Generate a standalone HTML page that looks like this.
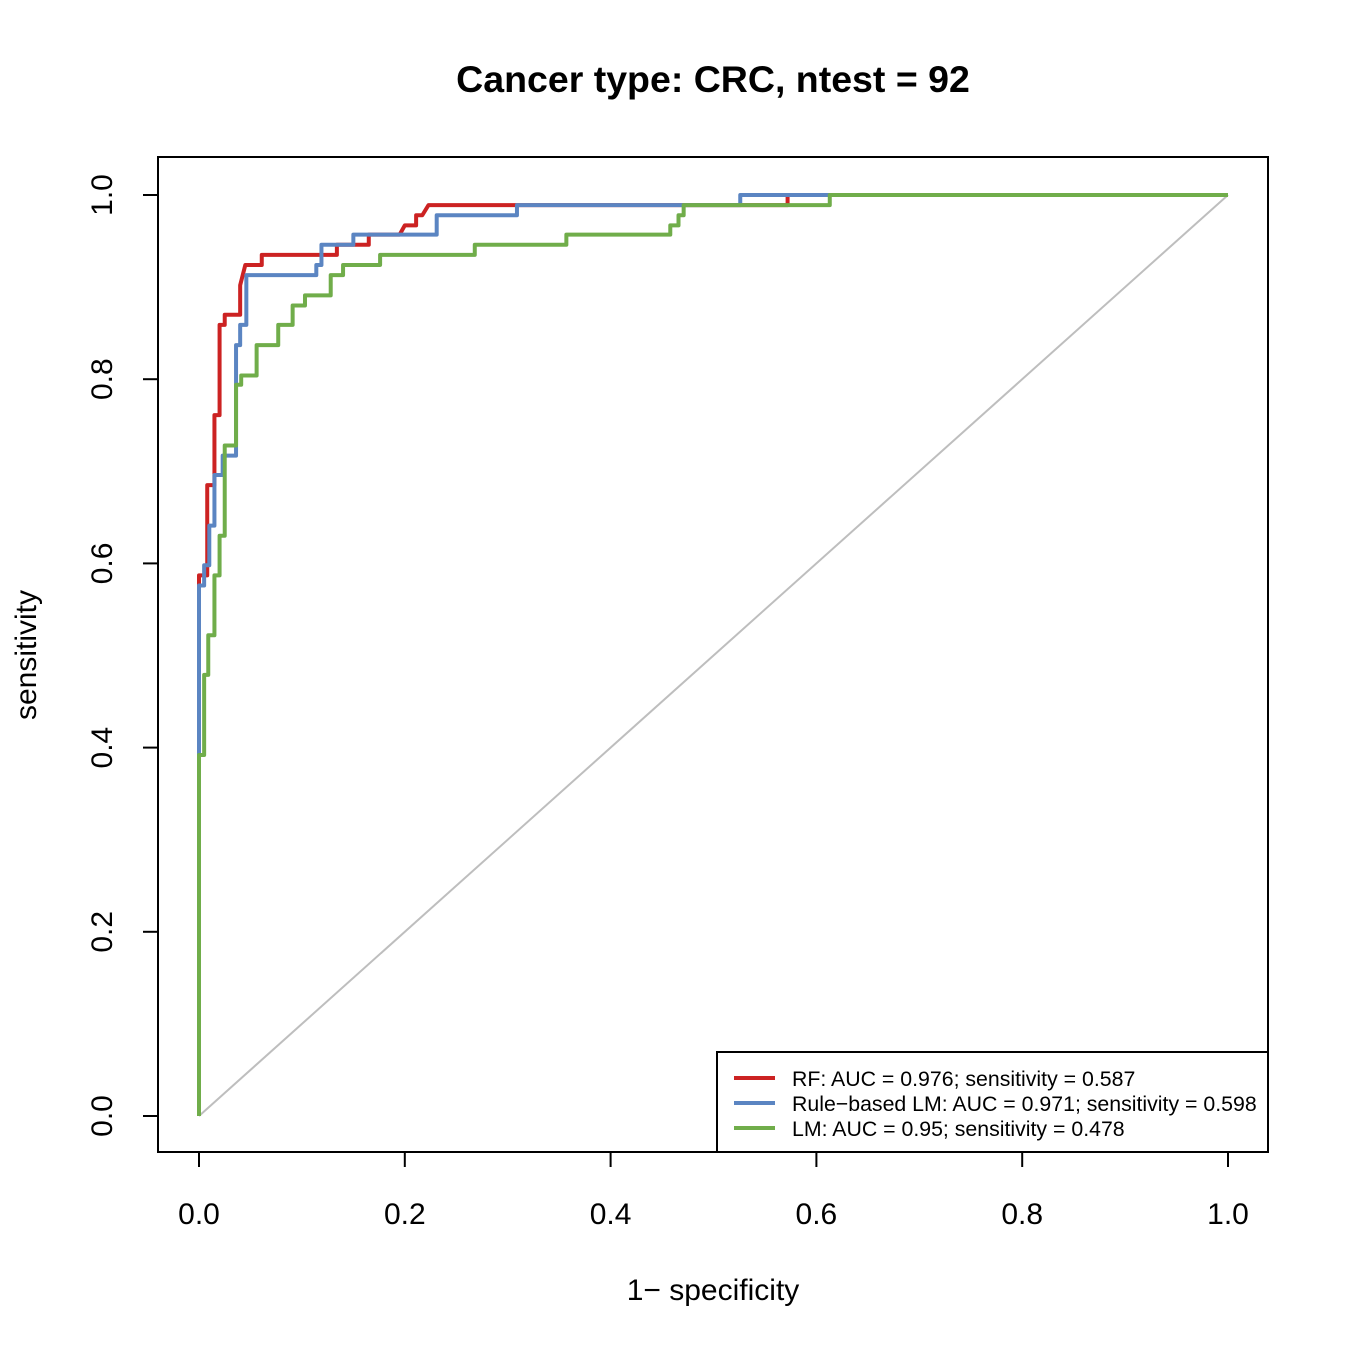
<!DOCTYPE html>
<html><head><meta charset="utf-8"><style>
html,body{margin:0;padding:0;background:#fff;}
svg text{font-family:"Liberation Sans",Arial,sans-serif;}
</style></head><body>
<svg id="chart" width="1350" height="1350" viewBox="0 0 1350 1350" xmlns="http://www.w3.org/2000/svg">
<rect x="0" y="0" width="1350" height="1350" fill="#fff"/>
<text x="713" y="92" text-anchor="middle" font-size="37.5" font-weight="bold">Cancer type: CRC, ntest = 92</text>
<g id="plot"></g>
<rect x="158" y="157" width="1110" height="995" fill="none" stroke="#000" stroke-width="2"/>
<text x="713" y="1300" text-anchor="middle" font-size="30">1− specificity</text>
<text transform="translate(36,655) rotate(-90)" text-anchor="middle" font-size="30">sensitivity</text>
<g>
<rect x="717" y="1052" width="551" height="100" fill="#fff" stroke="#000" stroke-width="2"/>
<line x1="734" y1="1078" x2="775" y2="1078" stroke="#cc2222" stroke-width="4"/>
<text x="792" y="1086" font-size="21.3">RF: AUC = 0.976; sensitivity = 0.587</text>
<line x1="734" y1="1103" x2="775" y2="1103" stroke="#5b85c2" stroke-width="4"/>
<text x="792" y="1111" font-size="21.3">Rule−based LM: AUC = 0.971; sensitivity = 0.598</text>
<line x1="734" y1="1128" x2="775" y2="1128" stroke="#70ad4a" stroke-width="4"/>
<text x="792" y="1136" font-size="21.3">LM: AUC = 0.95; sensitivity = 0.478</text>
</g>
</svg>
<script>
const ticks=[0,0.2,0.4,0.6,0.8,1.0];
const tickLabels=["0.0","0.2","0.4","0.6","0.8","1.0"];
const rfFpr=[0,0,0.008,0.008,0.010,0.010,0.015,0.015,0.020,0.020,0.025,0.025,0.040,0.040,0.045,0.061,0.061,0.134,0.134,0.165,0.165,0.195,0.200,0.211,0.211,0.217,0.223,0.572,0.572,1];
const rfTpr=[0,0.587,0.587,0.685,0.685,0.685,0.685,0.761,0.761,0.859,0.859,0.870,0.870,0.902,0.924,0.924,0.935,0.935,0.946,0.946,0.957,0.957,0.967,0.967,0.978,0.978,0.989,0.989,1,1];
const blFpr=[0,0,0,0.005,0.005,0.010,0.010,0.015,0.015,0.023,0.023,0.036,0.036,0.040,0.040,0.046,0.046,0.114,0.114,0.119,0.119,0.150,0.150,0.231,0.231,0.309,0.309,0.526,0.526,1];
const blTpr=[0,0.392,0.576,0.576,0.598,0.598,0.641,0.641,0.696,0.696,0.717,0.717,0.837,0.837,0.859,0.859,0.913,0.913,0.924,0.924,0.946,0.946,0.957,0.957,0.978,0.978,0.989,0.989,1,1];
const lmFpr=[0,0,0.005,0.005,0.009,0.009,0.015,0.015,0.020,0.020,0.025,0.025,0.036,0.036,0.041,0.041,0.056,0.056,0.077,0.077,0.091,0.091,0.103,0.103,0.128,0.128,0.140,0.140,0.176,0.176,0.268,0.268,0.357,0.357,0.458,0.458,0.466,0.466,0.471,0.471,0.613,0.613,1];
const lmTpr=[0,0.392,0.392,0.479,0.479,0.522,0.522,0.587,0.587,0.630,0.630,0.728,0.728,0.794,0.794,0.804,0.804,0.837,0.837,0.859,0.859,0.880,0.880,0.891,0.891,0.913,0.913,0.924,0.924,0.935,0.935,0.946,0.946,0.957,0.957,0.967,0.967,0.978,0.978,0.989,0.989,1,1];
const sx=v=>199+v*1029, sy=v=>1116-v*921;
const NS="http://www.w3.org/2000/svg";
const g=document.getElementById('plot');
function mk(t,a){const e=document.createElementNS(NS,t);for(const k in a)e.setAttribute(k,a[k]);g.appendChild(e);return e;}
ticks.forEach((t,i)=>{
 const l=mk('line',{x1:sx(t),x2:sx(t),y1:1152,y2:1167,stroke:'#000','stroke-width':2});
 
 
 const tx=mk('text',{x:sx(t),y:1224,'text-anchor':'middle','font-size':30});tx.textContent=tickLabels[i];
 
 
 const l2=mk('line',{x1:143,x2:158,y1:sy(t),y2:sy(t),stroke:'#000','stroke-width':2});
 
 
 const ty=mk('text',{transform:`translate(112,${sy(t)}) rotate(-90)`,'text-anchor':'middle','font-size':30});ty.textContent=tickLabels[i];
 
 
});
const d=mk('line',{x1:sx(0),y1:sy(0),x2:sx(1),y2:sy(1),stroke:'#bebebe','stroke-width':2});


function curve(f,t,c,name){
 const p=mk('polyline',{points:f.map((v,i)=>sx(v)+','+sy(t[i])).join(' '),fill:'none',stroke:c,'stroke-width':4,'stroke-linejoin':'round'});
 
 
}
curve(rfFpr,rfTpr,'#cc2222','rf-roc-curve');
curve(blFpr,blTpr,'#5b85c2','rule-based-lm-roc-curve');
curve(lmFpr,lmTpr,'#70ad4a','lm-roc-curve');
</script>
</body></html>
